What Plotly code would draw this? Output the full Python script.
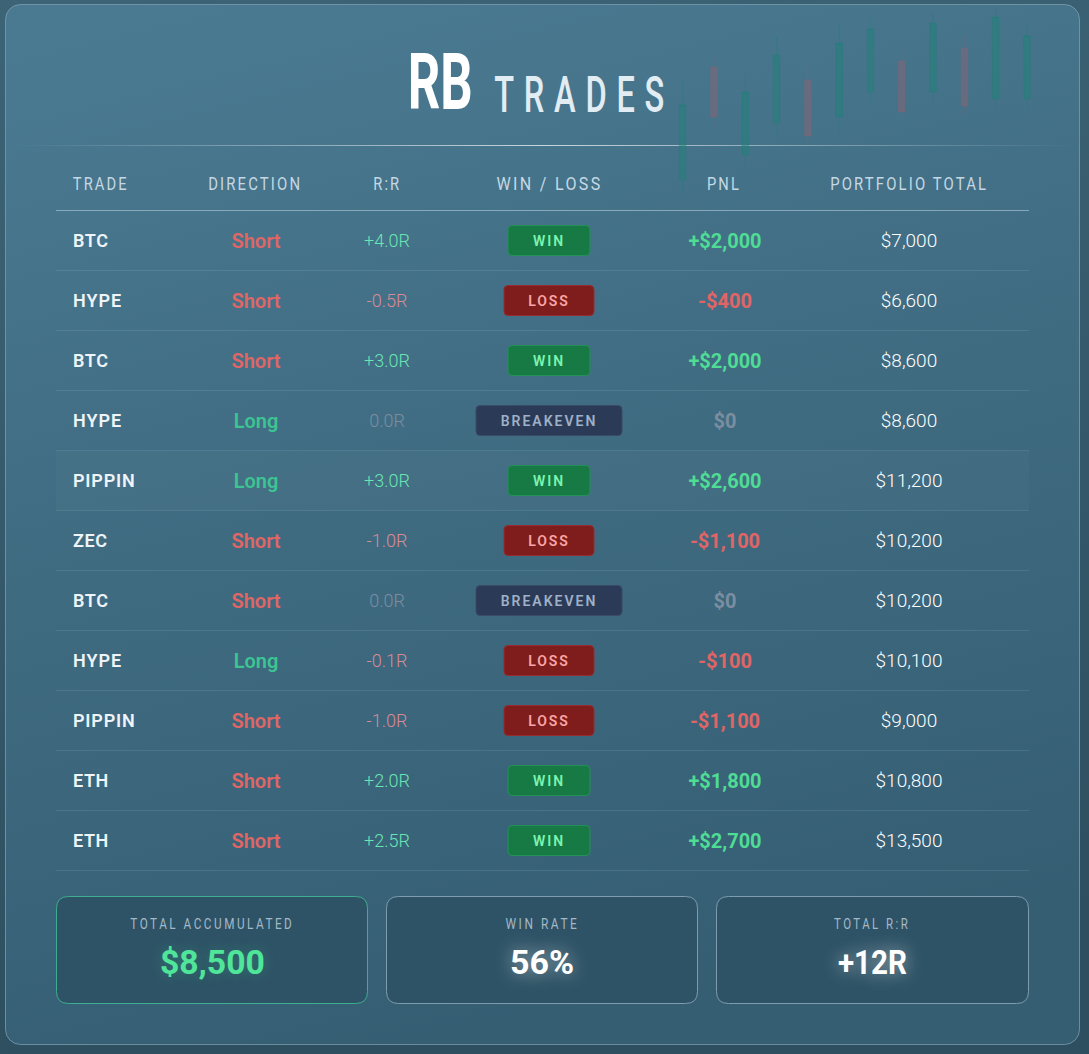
import base64

import plotly.graph_objects as go

TRADES = ["BTC", "HYPE", "BTC", "HYPE", "PIPPIN", "ZEC", "BTC", "HYPE", "PIPPIN", "ETH", "ETH"]
DIRECTIONS = ["Short", "Short", "Short", "Long", "Long", "Short", "Short", "Long", "Short", "Short", "Short"]
RR = ["+4.0R", "-0.5R", "+3.0R", "0.0R", "+3.0R", "-1.0R", "0.0R", "-0.1R", "-1.0R", "+2.0R", "+2.5R"]
RESULTS = ["WIN", "LOSS", "WIN", "BREAKEVEN", "WIN", "LOSS", "BREAKEVEN", "LOSS", "LOSS", "WIN", "WIN"]
PNL = ["+$2,000", "-$400", "+$2,000", "$0", "+$2,600", "-$1,100", "$0", "-$100", "-$1,100", "+$1,800", "+$2,700"]
TOTALS = ["$7,000", "$6,600", "$8,600", "$8,600", "$11,200", "$10,200", "$10,200", "$10,100", "$9,000", "$10,800", "$13,500"]
HEADERS = ["TRADE", "DIRECTION", "R:R", "WIN / LOSS", "PNL", "PORTFOLIO TOTAL"]
STAT_LABELS = ["TOTAL ACCUMULATED", "WIN RATE", "TOTAL R:R"]
STAT_VALUES = ["$8,500", "56%", "+12R"]

# background candles, arbitrary price units
CANDLE_OPEN = [20, 133, 45, 77, 120, 83, 108, 139, 108, 152, 101, 101]
CANDLE_CLOSE = [95, 83, 108, 145, 64, 157, 171, 88, 177, 94, 183, 164]
CANDLE_HIGH = [120, 143, 127, 163, 135, 176, 183, 152, 187, 165, 192, 178]
CANDLE_LOW = [8, 73, 32, 65, 55, 67, 98, 80, 97, 85, 88, 90]

W, H = 1089, 1054
ROW_Y0, ROW_H = 241, 60
COL_X = [73, 256, 387, 549, 725, 909]
HEADER_X = [101, 255, 387, 549, 724, 909]
TEXT_FONT = "Roboto, sans-serif"

GREEN, RED, GREY = "#4fdc94", "#e06565", "#7b8ea0"
RR_COLORS = {"+": "#68e6b4", "-": "#d98a96", "0": GREY}
PNL_COLORS = {"+": GREEN, "-": RED, "$": GREY}
DIR_COLORS = {"Short": "#e06666", "Long": "#3cc592"}
BADGES = {
    "WIN": dict(width=82, fill="#177a45", line="#249058", text="#7cf3b0"),
    "LOSS": dict(width=90, fill="#7f1d1d", line="#962c30", text="#fca5a5"),
    "BREAKEVEN": dict(width=146, fill="#2b3b57", line="#3b4a66", text="#9fb0c8"),
}
LETTER_SPACING = {
    "TRADES": 15, "TRADE": 2.6, "DIRECTION": 2.6, "R:R": 2.6, "WIN / LOSS": 2.6, "PNL": 2.6,
    "PORTFOLIO TOTAL": 2.6, "TOTAL ACCUMULATED": 3, "WIN RATE": 3, "TOTAL R:R": 3,
    "WIN": 1.9, "LOSS": 1.9, "BREAKEVEN": 2.0,
    "BTC": 0.6, "HYPE": 1.0, "PIPPIN": 0.8, "ZEC": 0.6, "ETH": 0.6,
}
# squeezed widths in px, the installed fonts have no condensed cut
TEXT_WIDTHS = {
    "RB": 65, "TRADES": 180, "TRADE": 56, "DIRECTION": 94, "R:R": 28, "WIN / LOSS": 106, "PNL": 34,
    "PORTFOLIO TOTAL": 158, "TOTAL ACCUMULATED": 164, "WIN RATE": 74, "TOTAL R:R": 76,
    "$8,500": 105, "56%": 64, "+12R": 69,
}


def row_y(px):
    """Pixel height on the page to row units."""
    return (px - ROW_Y0) / ROW_H


def rounded(x0, y0, x1, y1, r):
    """Rounded rectangle path, corners given in page pixels."""
    y = row_y
    return (
        f"M{x0 + r},{y(y0)} L{x1 - r},{y(y0)} Q{x1},{y(y0)} {x1},{y(y0 + r)} "
        f"L{x1},{y(y1 - r)} Q{x1},{y(y1)} {x1 - r},{y(y1)} "
        f"L{x0 + r},{y(y1)} Q{x0},{y(y1)} {x0},{y(y1 - r)} "
        f"L{x0},{y(y0 + r)} Q{x0},{y(y0)} {x0 + r},{y(y0)} Z"
    )


backdrop = f"""<svg xmlns='http://www.w3.org/2000/svg' width='{W}' height='{H}' viewBox='0 0 {W} {H}'>
<defs>
<linearGradient id='page' x1='0' y1='0' x2='0.15' y2='1'><stop offset='0' stop-color='#3c6476'/><stop offset='1' stop-color='#2e4f60'/></linearGradient>
<linearGradient id='card' x1='0.15' y1='0' x2='0.4' y2='1'><stop offset='0' stop-color='#4a7a92'/><stop offset='0.5' stop-color='#3f6b81'/><stop offset='1' stop-color='#355e73'/></linearGradient>
<linearGradient id='rule' x1='0' y1='0' x2='1' y2='0'><stop offset='0' stop-color='#fff' stop-opacity='0'/><stop offset='0.5' stop-color='#fff' stop-opacity='0.7'/><stop offset='1' stop-color='#fff' stop-opacity='0'/></linearGradient>
</defs>
<rect width='{W}' height='{H}' fill='url(#page)'/>
<rect x='5.5' y='4.5' width='1074' height='1040' rx='15' fill='url(#card)' stroke='#7fa0b2' stroke-opacity='0.75'/>
<rect x='10' y='145' width='1065' height='1' fill='url(#rule)'/>
</svg>"""
backdrop_uri = "data:image/svg+xml;base64," + base64.b64encode(backdrop.encode()).decode()

fig = go.Figure()

rows = list(range(len(TRADES)))
shapes = []

# highlighted row sits under everything else
shapes.append(dict(type="rect", x0=56, x1=1029, y0=row_y(451), y1=row_y(510), xref="x", yref="y",
                   fillcolor="rgba(255,255,255,0.025)", line_width=0, layer="below"))
shapes.append(dict(type="line", x0=56, x1=1029, y0=row_y(210.5), y1=row_y(210.5), xref="x", yref="y",
                   line=dict(color="rgba(190,215,228,0.55)", width=1), layer="below"))
for i in rows:
    sep = i + 0.5 - 0.5 / ROW_H
    shapes.append(dict(type="line", x0=56, x1=1029, y0=sep, y1=sep, xref="x", yref="y",
                       line=dict(color="rgba(170,205,222,0.15)", width=1), layer="below"))

for i, result in zip(rows, RESULTS):
    b = BADGES[result]
    cy = ROW_Y0 + ROW_H * i - 0.5
    shapes.append(dict(
        type="path", xref="x", yref="y", layer="below",
        path=rounded(COL_X[3] - b["width"] / 2, cy - 15, COL_X[3] + b["width"] / 2, cy + 15, 4),
        fillcolor=b["fill"], line=dict(color=b["line"], width=1),
    ))

STAT_BOXES = [(56.5, 367.5, "#3fae90"), (386.5, 697.5, "#7d9cae"), (716.5, 1028.5, "#7d9cae")]
for x0, x1, border in STAT_BOXES:
    shapes.append(dict(
        type="path", xref="x", yref="y", layer="below",
        path=rounded(x0, 896.5, x1, 1003.5, 12),
        fillcolor="#2e5366", line=dict(color=border, width=1),
    ))

fig.add_trace(go.Candlestick(
    x=list(range(len(CANDLE_OPEN))),
    open=CANDLE_OPEN,
    high=CANDLE_HIGH,
    low=CANDLE_LOW,
    close=CANDLE_CLOSE,
    xaxis="x2",
    yaxis="y2",
    whiskerwidth=0,
    increasing=dict(line=dict(color="rgba(30,130,120,0.3)", width=1), fillcolor="rgba(30,130,120,0.52)"),
    decreasing=dict(line=dict(color="rgba(140,100,115,0.3)", width=1), fillcolor="rgba(140,100,115,0.5)"),
    hoverinfo="skip",
    showlegend=False,
))


def add_column(col, values, colors, size, weight=400, position="middle center", dy=1.5 / ROW_H):
    fig.add_trace(go.Scatter(
        x=[COL_X[col]] * len(values),
        y=[i + dy for i in rows],
        mode="text",
        text=values,
        textposition=position,
        textfont=dict(family=TEXT_FONT, size=size, color=colors, weight=weight),
        hoverinfo="skip",
        showlegend=False,
    ))


add_column(0, TRADES, "#eef4f8", 18, weight=600, position="middle right")
add_column(1, DIRECTIONS, [DIR_COLORS[d] for d in DIRECTIONS], 20, weight=600)
add_column(2, RR, [RR_COLORS[v[0]] for v in RR], 18, weight=300)
add_column(3, RESULTS, [BADGES[r]["text"] for r in RESULTS], 14, weight=600, dy=1 / ROW_H)
add_column(4, PNL, [PNL_COLORS[v[0]] for v in PNL], 20, weight=700)
add_column(5, TOTALS, "#ffffff", 19, weight=300)

annotations = [
    dict(x=439.5, y=row_y(82.5), text="RB", showarrow=False, xref="x", yref="y",
         font=dict(family=TEXT_FONT, size=77, color="#ffffff", weight=700)),
    dict(x=584, y=row_y(95), text="TRADES", showarrow=False, xref="x", yref="y",
         font=dict(family=TEXT_FONT, size=50, color="#e2ecf3", weight=500)),
]
for col, header in enumerate(HEADERS):
    annotations.append(dict(
        x=HEADER_X[col], y=row_y(183), text=header, showarrow=False, xref="x", yref="y",
        font=dict(family=TEXT_FONT, size=18, color="#c5d8e3"),
    ))

STAT_COLORS = ["#4fe69a", "#ffffff", "#ffffff"]
STAT_GLOW = ["0 0 14px rgba(79,230,154,0.25)", "0 0 18px rgba(255,255,255,0.55)", "0 0 18px rgba(255,255,255,0.55)"]
for (x0, x1, _), label, value, color, glow in zip(STAT_BOXES, STAT_LABELS, STAT_VALUES, STAT_COLORS, STAT_GLOW):
    mid = (x0 + x1) / 2
    annotations.append(dict(
        x=mid, y=row_y(923.5), text=label, showarrow=False, xref="x", yref="y",
        font=dict(family=TEXT_FONT, size=14, color="#a4b9c6"),
    ))
    annotations.append(dict(
        x=mid, y=row_y(962), text=value, showarrow=False, xref="x", yref="y",
        font=dict(family=TEXT_FONT, size=33, color=color, weight=700, shadow=glow),
    ))

hidden = dict(visible=False, fixedrange=True)
fig.update_layout(
    width=W,
    height=H,
    margin=dict(l=0, r=0, t=0, b=0),
    paper_bgcolor="#2e4f60",
    plot_bgcolor="rgba(0,0,0,0)",
    showlegend=False,
    boxgap=0.7,
    shapes=shapes,
    annotations=annotations,
    images=[dict(source=backdrop_uri, xref="paper", yref="paper", x=0, y=1, sizex=1, sizey=1,
                 xanchor="left", yanchor="top", sizing="stretch", layer="below")],
    xaxis=dict(range=[0, W], **hidden),
    yaxis=dict(range=[row_y(H), row_y(0)], **hidden),
    # candles: 31.3 px per step, first one at x=682.7; price 200 is the top of the page
    xaxis2=dict(range=[-682.7 / 31.3, (W - 682.7) / 31.3], overlaying="x", anchor="y2", rangeslider=dict(visible=False), **hidden),
    yaxis2=dict(range=[0, 200], domain=[1 - 200 / H, 1], anchor="x2", **hidden),
)

post = (
    "document.body.style.margin='0';document.body.style.overflow='hidden';"
    f"var sp={LETTER_SPACING!r},wd={TEXT_WIDTHS!r};"
    "document.querySelectorAll('svg text').forEach(function(t){"
    "var k=t.textContent;"
    "if(sp[k]){t.style.letterSpacing=sp[k]+'px';}"
    "if(wd[k]){t.setAttribute('textLength',wd[k]);t.setAttribute('lengthAdjust','spacingAndGlyphs');}"
    "});"
)
fig.write_html("out.html", config={"displayModeBar": False}, post_script=post)
